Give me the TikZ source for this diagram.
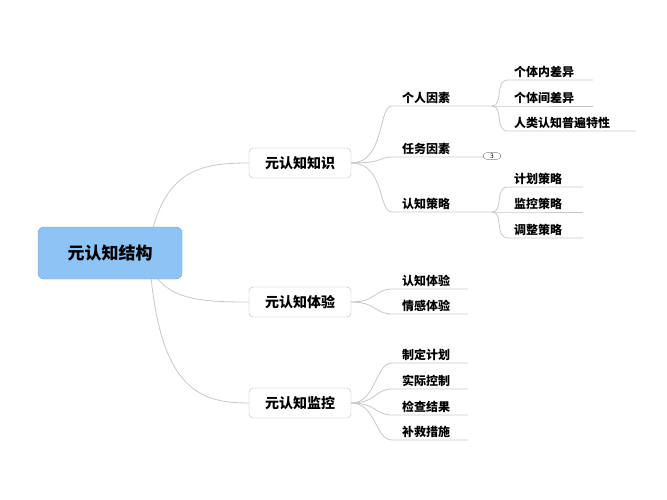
\documentclass[tikz,border=0pt]{standalone}
\usepackage{fontspec}
\newfontfamily\cjk{Noto Sans CJK SC}
\usetikzlibrary{positioning}
\definecolor{rootblue}{RGB}{142,196,245}
\definecolor{linegray}{RGB}{200,200,200}
\tikzset{
  rootbox/.style={draw=rootblue!80!black, fill=rootblue, rounded corners=6pt,
    minimum width=144pt, minimum height=52pt, font=\cjk\bfseries\fontsize{17}{20}\selectfont},
  mainbox/.style={draw=linegray!80!gray, fill=white, rounded corners=4pt,
    minimum width=102pt, minimum height=30pt, font=\cjk\bfseries\fontsize{14}{17}\selectfont},
  subtext/.style={inner sep=2pt, anchor=south west, minimum height=16pt,
    font=\cjk\bfseries\fontsize{12}{14}\selectfont},
  link/.style={draw=linegray, line width=0.8pt},
  badge/.style={draw=gray, rounded corners=4pt, fill=white, inner sep=1pt,
    minimum width=18pt, font=\sffamily\fontsize{7}{8}\selectfont}
}
\begin{document}
\begin{tikzpicture}[x=1pt,y=-1pt]
\useasboundingbox (0,0) rectangle (667,500);
% root and main branches
\draw[link] (150,240) .. controls (165,170) and (200,163) .. (249,163);
\draw[link] (150,266) .. controls (165,300) and (200,302) .. (249,302);
\draw[link] (150,266) .. controls (160,390) and (200,403) .. (249,403);
\node[rootbox] (root) at (110,253) {元认知结构};
\node[mainbox] (know) at (300,163) {元认知知识};
\node[mainbox] (exp) at (300,302) {元认知体验};
\node[mainbox] (mon) at (300,403) {元认知监控};

% second level
\coordinate (kb) at (know.east);
\foreach \name/\y/\txt/\w in {ps/106/个人因素/100, ts/157/任务因素/94, cs/212/认知策略/100}{
  \node[subtext] (\name) at (400,\y) {\txt};
  \draw[link] (kb) .. controls (385,163) and (378,\y) .. (392,\y) -- ++(\w,0);
}
\node[badge] (cnt) at (492,156) {3};

% third level
\foreach \name/\y/\txt/\w/\pn in {a/80/个体内差异/85/ps, b/106/个体间差异/85/ps, c/131/人类认知普遍特性/128/ps,
    d/187/计划策略/75/cs, e/212/监控策略/75/cs, f/238/调整策略/75/cs}{
  \node[subtext] (\name) at (512,\y) {\txt};
  \path (\pn.south west) ++(92,0) coordinate (\name p);
  \draw[link] (\name p) .. controls ++(12,0) and (494,\y) .. (508,\y) -- ++(\w,0);
}

% experience and monitoring
\foreach \name/\y/\txt/\pn in {g/289/认知体验/exp, h/314/情感体验/exp,
    i/363/制定计划/mon, j/389/实际控制/mon, k/415/检查结果/mon, l/440/补救措施/mon}{
  \node[subtext] (\name) at (400,\y) {\txt};
  \draw[link] (\pn.east) .. controls ++(25,0) and (375,\y) .. (392,\y) -- ++(76,0);
}
\end{tikzpicture}
\end{document}
